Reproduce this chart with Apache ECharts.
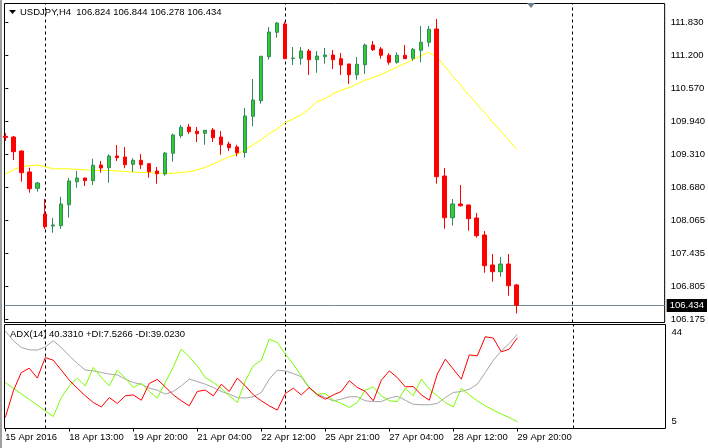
<!DOCTYPE html>
<html><head><meta charset="utf-8">
<script src="https://cdn.jsdelivr.net/npm/echarts@6/dist/echarts.min.js"></script>
<style>html,body{margin:0;padding:0;background:#fff}#c{width:708px;height:448px}</style>
</head><body><div id="c"></div>
<script>
const FONT = '"Liberation Sans", Arial, sans-serif';
const FS = 9.5;
const headerText = 'USDJPY,H4  106.824 106.844 106.278 106.434';
const adxText = 'ADX(14) 40.3310 +DI:7.5266 -DI:39.0230';
const dateLabels = ['15 Apr 2016','18 Apr 13:00','19 Apr 20:00','21 Apr 04:00','22 Apr 12:00','25 Apr 21:00','27 Apr 04:00','28 Apr 12:00','29 Apr 20:00'];
const dateTickBars = [0,8,16,24,32,40,48,56,64];
const priceTicks = [111.830,111.200,110.570,109.940,109.310,108.680,108.065,107.435,106.805,106.175];
const adxTicks = [5,44];
const separatorBars = [5,35,71];
const lastPrice = 106.434;

const opens = [109.66,109.648,109.381,108.98,108.669,108.178,107.949,107.955,108.355,108.795,108.865,108.814,109.113,109.062,109.285,109.266,109.127,109.203,109.138,108.999,108.942,109.337,109.673,109.839,109.757,109.719,109.782,109.648,109.514,109.457,109.352,110.043,110.341,111.181,111.647,111.805,111.145,111.15,111.29,111.124,111.181,111.213,111.143,111.042,110.837,111.028,111.404,111.328,111.208,111.074,111.208,111.15,111.303,111.456,111.71,108.903,108.107,108.369,108.35,108.102,107.777,107.204,107.076,107.223,106.824];
const closes = [109.64,109.367,108.966,108.661,108.77,107.935,107.968,108.369,108.808,108.865,108.814,109.108,109.056,109.285,109.253,109.119,109.203,109.119,108.985,108.947,109.342,109.686,109.833,109.749,109.711,109.776,109.635,109.501,109.444,109.348,110.049,110.354,111.189,111.652,111.824,111.143,111.155,111.29,111.124,111.194,111.213,111.124,111.022,110.837,111.036,111.404,111.315,111.208,111.074,111.208,111.143,111.322,111.456,111.704,108.89,108.107,108.369,108.336,108.088,107.764,107.191,107.076,107.223,106.809,106.434];
const highs = [109.724,109.667,109.39,109.062,108.789,108.464,108.102,108.508,108.865,108.999,108.87,109.234,109.19,109.318,109.495,109.457,109.241,109.323,109.15,109.075,109.362,109.711,109.877,109.896,109.839,109.78,109.82,109.762,109.558,109.501,110.202,110.755,111.195,111.748,111.843,111.85,111.366,111.366,111.328,111.29,111.347,111.309,111.252,111.042,111.175,111.429,111.481,111.366,111.252,111.265,111.404,111.347,111.767,111.767,111.901,109.056,108.464,108.732,108.35,108.197,107.853,107.414,107.357,107.414,106.844];
const lows = [109.572,109.209,108.795,108.585,108.604,107.892,107.821,107.892,108.107,108.68,108.712,108.732,108.966,108.775,109.19,109.05,108.985,109.037,108.871,108.756,108.909,109.176,109.629,109.705,109.552,109.501,109.552,109.31,109.381,109.279,109.253,109.852,110.284,111.124,111.544,111.137,111.022,111.028,110.832,110.875,111.047,110.946,110.832,110.66,110.742,110.851,111.29,111.143,111.028,111.047,111.143,111.105,111.074,111.372,108.756,107.897,107.955,108.317,107.859,107.725,107.057,106.885,106.981,106.618,106.278];
const maValues = [108.94,109.02,109.08,109.10,109.11,109.08,109.04,109.04,109.04,109.03,109.02,109.01,109.01,109.01,109.00,108.99,108.98,108.97,108.97,108.955,108.955,108.955,108.97,108.985,109.02,109.07,109.13,109.20,109.27,109.32,109.40,109.50,109.59,109.71,109.80,109.92,109.99,110.07,110.18,110.32,110.38,110.47,110.54,110.59,110.66,110.73,110.78,110.84,110.91,110.98,111.05,111.12,111.20,111.26,111.18,111.00,110.81,110.64,110.45,110.28,110.11,109.93,109.76,109.59,109.42];
const adxValues = [41.6,37.9,35.4,34.5,34.4,35.6,37.9,35.4,32.25,29.4,26.9,26.6,26.0,25.4,25.1,23.5,22.25,21.6,20.1,19.4,17.9,18.9,21.0,23.5,22.6,21.6,20.4,18.9,17.9,16.6,16.4,16.9,18.5,23.5,26.9,26.6,25.6,24.4,20.1,17.9,16.6,15.4,16.0,16.9,16.9,15.4,15.1,15.1,16.4,17.1,15.6,14.1,13.9,13.9,14.4,16.6,18.5,18.9,19.75,21.6,26.0,30.6,34.1,36.9,40.33];
const plusDI = [22.25,20.1,18.0,15.9,13.75,11.6,9.5,16.6,21.0,23.9,21.0,27.9,24.1,21.0,26.9,23.9,20.4,21.9,18.9,16.4,22.25,28.1,34.75,31.9,28.5,24.1,22.25,20.1,17.25,14.75,22.9,28.5,30.6,38.5,37.25,32.9,29.1,24.75,20.4,17.9,18.1,15.6,14.4,12.9,14.75,19.4,20.6,17.25,15.4,15.1,20.1,17.25,23.5,19.75,17.25,14.75,13.1,20.1,17.6,15.4,13.5,11.9,10.4,9.1,7.53];
const minusDI = [9.1,19.1,26.0,27.6,23.9,31.6,30.6,26.9,23.1,20.1,17.25,14.75,13.1,16.6,14.4,17.25,17.6,15.6,21.9,23.4,20.6,17.6,15.4,13.5,18.9,19.4,17.25,21.6,18.9,23.9,21.0,17.6,15.4,13.5,11.9,18.1,20.1,17.6,20.4,17.6,16.0,17.6,18.9,22.9,20.4,18.9,15.4,23.1,26.6,24.1,20.6,20.75,17.6,15.6,25.4,31.0,27.25,23.5,32.6,32.25,39.4,38.9,33.75,34.75,39.02];

const GL = 4.5, GW = 661, PX_PER_BAR = 8;
const X_MIN = -(5.3 - GL) / PX_PER_BAR;
const X_MAX = X_MIN + GW / PX_PER_BAR;

const candles = opens.map((o, i) => [i, o, closes[i], lows[i], highs[i]]);
const idx = a => a.map((v, i) => [i, v]);
const sepLine = {
  symbol: 'none', silent: true, animation: false, z: 1,
  label: {show: false},
  lineStyle: {color: '#000', type: [3, 3], width: 1},
  data: separatorBars.map(b => ({xAxis: b}))
};

const chart = echarts.init(document.getElementById('c'), null, {renderer: 'canvas'});
chart.setOption({
  animation: false,
  backgroundColor: '#ffffff',
  textStyle: {fontFamily: FONT},
  grid: [
    {left: GL, top: 3.5, width: GW, height: 319, show: true, borderColor: '#000', borderWidth: 1},
    {left: GL, top: 324.5, width: GW, height: 104, show: true, borderColor: '#000', borderWidth: 1}
  ],
  xAxis: [
    {type: 'value', gridIndex: 0, min: X_MIN, max: X_MAX, axisLine: {show: false}, axisTick: {show: false}, axisLabel: {show: false}, splitLine: {show: false}},
    {type: 'value', gridIndex: 1, min: X_MIN, max: X_MAX, axisLine: {show: false}, splitLine: {show: false},
     axisTick: {show: true, customValues: dateTickBars, length: 3, lineStyle: {color: '#000'}},
     axisLabel: {customValues: dateTickBars, align: 'left', margin: 4, color: '#000', fontSize: FS, fontFamily: FONT,
       formatter: v => dateLabels[dateTickBars.indexOf(Math.round(v))] || ''}}
  ],
  yAxis: [
    {type: 'value', gridIndex: 0, position: 'right', min: 106.1064, max: 112.1966,
     axisLine: {show: false}, splitLine: {show: false},
     axisTick: {show: true, customValues: priceTicks, length: 3, lineStyle: {color: '#000'}},
     axisLabel: {customValues: priceTicks, margin: 6, color: '#000', fontSize: FS, fontFamily: FONT, formatter: v => v.toFixed(3)}},
    {type: 'value', gridIndex: 1, position: 'right', min: 5, max: 44,
     axisLine: {show: false}, splitLine: {show: false}, axisTick: {show: false},
     axisLabel: {customValues: adxTicks, margin: 6, color: '#000', fontSize: FS, fontFamily: FONT,
       formatter: v => v >= 44 ? '{t|' + v + '}' : '{b|' + v + '}',
       rich: {t: {padding: [15, 0, 0, 0], fontSize: FS, fontFamily: FONT, color: '#000'}, b: {padding: [0, 0, 14, 0], fontSize: FS, fontFamily: FONT, color: '#000'}}}}
  ],
  series: [
    {type: 'line', xAxisIndex: 0, yAxisIndex: 0, data: idx(maValues), symbol: 'none', lineStyle: {color: '#FFFF00', width: 1}, z: 1, markLine: sepLine},
    {type: 'candlestick', xAxisIndex: 0, yAxisIndex: 0, data: candles, encode: {x: 0, y: [1, 2, 3, 4]}, barWidth: 4, z: 6,
     itemStyle: {color: '#32CD32', color0: '#FF0000', borderColor: '#2E8B57', borderColor0: '#FF0000', borderWidth: 1},
     markLine: {
       symbol: 'none', silent: true, animation: false, z: 2,
       data: [
         {yAxis: lastPrice, lineStyle: {color: '#778899', type: 'solid', width: 1},
          label: {show: true, position: 'end', distance: 2, formatter: lastPrice.toFixed(3), color: '#fff', backgroundColor: '#000', padding: [2, 3, 1, 3], fontSize: FS, fontFamily: FONT}}
       ]
     }},
    {type: 'line', xAxisIndex: 1, yAxisIndex: 1, data: idx(adxValues), symbol: 'none', lineStyle: {color: '#A6A6A6', width: 1}, markLine: sepLine},
    {type: 'line', xAxisIndex: 1, yAxisIndex: 1, data: idx(plusDI), symbol: 'none', lineStyle: {color: '#7CFC00', width: 1}},
    {type: 'line', xAxisIndex: 1, yAxisIndex: 1, data: idx(minusDI), symbol: 'none', lineStyle: {color: '#FF0000', width: 1}}
  ],
  graphic: [
    {type: 'rect', left: 0, top: 0, shape: {width: 2, height: 448}, style: {fill: '#A0A0A0'}, silent: true},
    {type: 'polygon', shape: {points: [[9, 10], [16, 10], [12.5, 14]]}, style: {fill: '#000'}, silent: true},
    {type: 'text', left: 20, top: 7, style: {text: headerText, font: FS + 'px ' + FONT, fill: '#000'}, silent: true},
    {type: 'polygon', shape: {points: [[527, 3], [535, 3], [531, 8]]}, style: {fill: '#6E7F8F'}, silent: true},
    {type: 'text', left: 10, top: 329, style: {text: adxText, font: FS + 'px ' + FONT, fill: '#000'}, silent: true}
  ]
});
</script></body></html>
